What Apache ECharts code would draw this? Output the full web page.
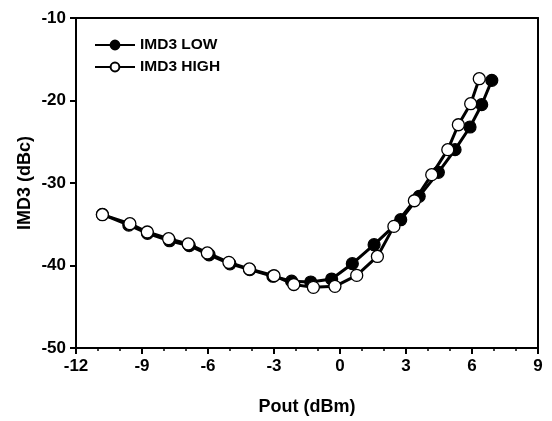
<!DOCTYPE html>
<html>
<head>
<meta charset="utf-8">
<script src="https://cdn.jsdelivr.net/npm/echarts@6/dist/echarts.min.js"></script>
<style>
html,body{margin:0;padding:0;background:#fff;}
#chart{width:552px;height:421px;}
</style>
</head>
<body>
<div id="chart"></div>
<script>
var lowX = [-10.8, -9.6, -8.75, -7.75, -6.85, -5.95, -5.0, -4.1, -3.05, -2.2, -1.33, -0.38, 0.56, 1.55, 2.76, 3.60, 4.47, 5.23, 5.91, 6.44, 6.90];
var lowY = [-33.8, -35.1, -36.1, -37.0, -37.6, -38.7, -39.8, -40.5, -41.3, -41.9, -42.0, -41.64, -39.78, -37.48, -34.45, -31.62, -28.71, -25.96, -23.21, -20.51, -17.56];
var highX = [-10.80, -9.55, -8.76, -7.79, -6.90, -6.03, -5.05, -4.12, -3.0, -2.1, -1.21, -0.23, 0.76, 1.70, 2.45, 3.38, 4.17, 4.90, 5.38, 5.94, 6.33];
var highY = [-33.84, -34.93, -35.94, -36.75, -37.39, -38.48, -39.62, -40.42, -41.24, -42.3, -42.65, -42.53, -41.2, -38.9, -35.26, -32.15, -28.99, -25.96, -22.94, -20.39, -17.36];
var seriesNames = ['IMD3 LOW', 'IMD3 HIGH'];
var xTitle = 'Pout (dBm)';
var yTitle = 'IMD3 (dBc)';

function pairs(xs, ys){ return xs.map(function(x,i){ return [x, ys[i]]; }); }

var font = 'Liberation Sans, Arial, sans-serif';
var chart = echarts.init(document.getElementById('chart'));
chart.setOption({
  animation: false,
  backgroundColor: '#fff',
  grid: {left: 76, right: 14, top: 18, bottom: 73, containLabel: false},
  legend: {
    orient: 'vertical', left: 89, top: 32, itemWidth: 40, itemHeight: 11, itemGap: 6,
    textStyle: {fontFamily: font, fontWeight: 'bold', fontSize: 15.5, color: '#000'},
    data: seriesNames
  },
  xAxis: [{
    type: 'value', min: -12, max: 9, interval: 3,
    name: xTitle, nameLocation: 'middle', nameGap: 50, nameMoveOverlap: false,
    nameTextStyle: {fontFamily: font, fontWeight: 'bold', fontSize: 18, color: '#000'},
    axisLine: {onZero: false, lineStyle: {color: '#000', width: 2}},
    axisTick: {show: true, inside: false, length: 6, lineStyle: {color: '#000', width: 2}},
    minorTick: {show: true, splitNumber: 3, length: 3, lineStyle: {color: '#000', width: 1.5}},
    axisLabel: {fontFamily: font, fontWeight: 'bold', fontSize: 17, color: '#000', margin: 10},
    splitLine: {show: false}
  }, {
    type: 'value', min: -12, max: 9, interval: 3, position: 'top',
    axisLine: {onZero: false, lineStyle: {color: '#000', width: 2}},
    axisTick: {show: false}, axisLabel: {show: false}, splitLine: {show: false}
  }],
  yAxis: [{
    type: 'value', min: -50, max: -10, interval: 10,
    name: yTitle, nameLocation: 'middle', nameGap: 42, nameRotate: 90, nameMoveOverlap: false,
    nameTextStyle: {fontFamily: font, fontWeight: 'bold', fontSize: 18, color: '#000'},
    axisLine: {onZero: false, lineStyle: {color: '#000', width: 2}},
    axisTick: {show: true, inside: false, length: 6, lineStyle: {color: '#000', width: 2}},
    axisLabel: {fontFamily: font, fontWeight: 'bold', fontSize: 17, color: '#000', margin: 10},
    splitLine: {show: false}
  }, {
    type: 'value', min: -50, max: -10, interval: 10, position: 'right',
    axisLine: {onZero: false, lineStyle: {color: '#000', width: 2}},
    axisTick: {show: false}, axisLabel: {show: false}, splitLine: {show: false}
  }],
  series: [{
    name: seriesNames[0], type: 'line', data: pairs(lowX, lowY),
    symbol: 'circle', symbolSize: 12,
    lineStyle: {color: '#000', width: 3},
    itemStyle: {color: '#000', borderColor: '#000', borderWidth: 1.2}
  }, {
    name: seriesNames[1], type: 'line', data: pairs(highX, highY),
    symbol: 'circle', symbolSize: 12,
    lineStyle: {color: '#000', width: 3},
    itemStyle: {color: '#fff', borderColor: '#000', borderWidth: 1.3}
  }]
});
</script>
</body>
</html>
